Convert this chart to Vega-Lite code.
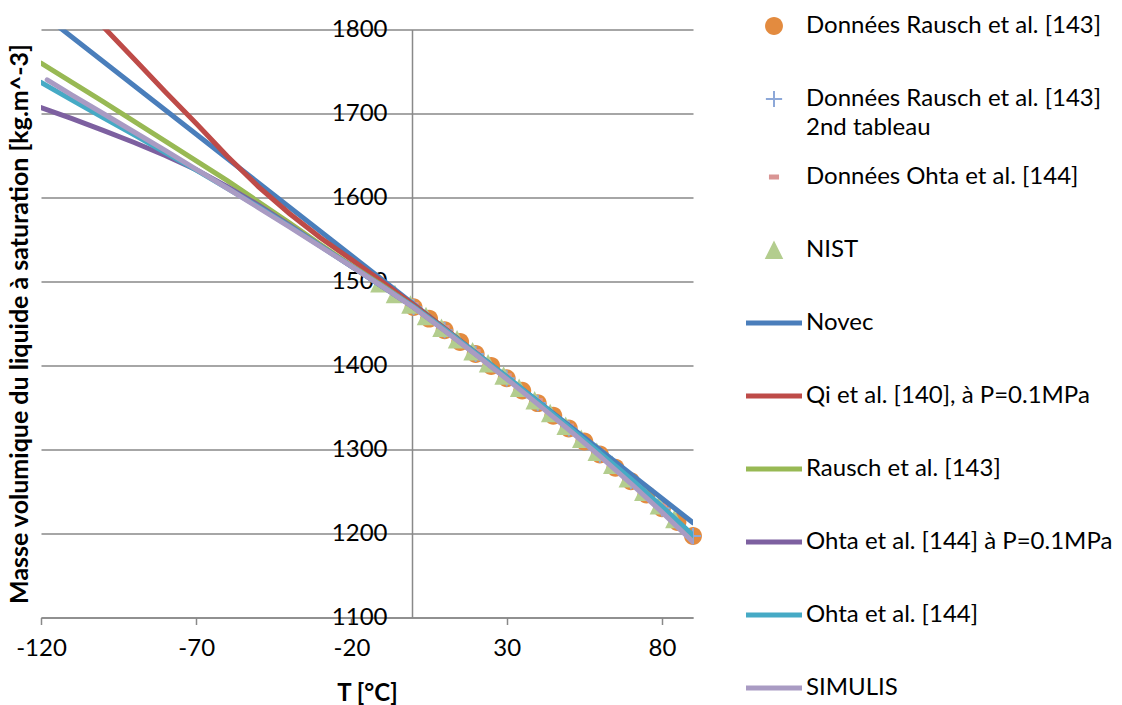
{
  "$schema": "https://vega.github.io/schema/vega-lite/v6.json",
  "autosize": "none",
  "width": 652,
  "height": 588,
  "padding": {"left": 41, "top": 29.5, "right": 429, "bottom": 87.5},
  "background": "white",
  "config": {"font": "Lato", "view": {"stroke": null}, "style": {"guide-label": {"lineHeight": 29}}},
  "data": {"values": [
    {"s": "Données Rausch et al. [143]", "T": 0, "rho": 1469.5},
    {"s": "Données Rausch et al. [143]", "T": 5, "rho": 1455.8},
    {"s": "Données Rausch et al. [143]", "T": 10, "rho": 1442.0},
    {"s": "Données Rausch et al. [143]", "T": 15, "rho": 1427.9},
    {"s": "Données Rausch et al. [143]", "T": 20, "rho": 1413.7},
    {"s": "Données Rausch et al. [143]", "T": 25, "rho": 1399.4},
    {"s": "Données Rausch et al. [143]", "T": 30, "rho": 1384.8},
    {"s": "Données Rausch et al. [143]", "T": 35, "rho": 1370.1},
    {"s": "Données Rausch et al. [143]", "T": 40, "rho": 1355.2},
    {"s": "Données Rausch et al. [143]", "T": 45, "rho": 1340.2},
    {"s": "Données Rausch et al. [143]", "T": 50, "rho": 1325.0},
    {"s": "Données Rausch et al. [143]", "T": 55, "rho": 1309.6},
    {"s": "Données Rausch et al. [143]", "T": 60, "rho": 1294.0},
    {"s": "Données Rausch et al. [143]", "T": 65, "rho": 1278.3},
    {"s": "Données Rausch et al. [143]", "T": 70, "rho": 1262.3},
    {"s": "Données Rausch et al. [143]", "T": 75, "rho": 1246.3},
    {"s": "Données Rausch et al. [143]", "T": 80, "rho": 1230.0},
    {"s": "Données Rausch et al. [143]", "T": 85, "rho": 1213.6},
    {"s": "Données Rausch et al. [143]", "T": 90, "rho": 1197.0},
    {"s": "Données Rausch et al. [143] 2nd tableau", "T": 0, "rho": 1469.5},
    {"s": "Données Rausch et al. [143] 2nd tableau", "T": 10, "rho": 1442.0},
    {"s": "Données Rausch et al. [143] 2nd tableau", "T": 20, "rho": 1413.7},
    {"s": "Données Rausch et al. [143] 2nd tableau", "T": 30, "rho": 1384.8},
    {"s": "Données Rausch et al. [143] 2nd tableau", "T": 40, "rho": 1355.2},
    {"s": "Données Rausch et al. [143] 2nd tableau", "T": 50, "rho": 1325.0},
    {"s": "Données Rausch et al. [143] 2nd tableau", "T": 60, "rho": 1294.0},
    {"s": "Données Rausch et al. [143] 2nd tableau", "T": 70, "rho": 1262.3},
    {"s": "Données Rausch et al. [143] 2nd tableau", "T": 80, "rho": 1230.0},
    {"s": "Données Rausch et al. [143] 2nd tableau", "T": 90, "rho": 1197.0},
    {"s": "Données Ohta et al. [144]", "T": 0, "rho": 1472.5},
    {"s": "Données Ohta et al. [144]", "T": 10, "rho": 1445.0},
    {"s": "Données Ohta et al. [144]", "T": 20, "rho": 1416.7},
    {"s": "Données Ohta et al. [144]", "T": 30, "rho": 1387.8},
    {"s": "Données Ohta et al. [144]", "T": 40, "rho": 1358.2},
    {"s": "Données Ohta et al. [144]", "T": 50, "rho": 1328.0},
    {"s": "Données Ohta et al. [144]", "T": 60, "rho": 1297.0},
    {"s": "Données Ohta et al. [144]", "T": 70, "rho": 1265.3},
    {"s": "Données Ohta et al. [144]", "T": 80, "rho": 1233.0},
    {"s": "NIST", "T": -11, "rho": 1497.5},
    {"s": "NIST", "T": -6, "rho": 1484.8},
    {"s": "NIST", "T": -1, "rho": 1472.2},
    {"s": "NIST", "T": 4, "rho": 1458.6},
    {"s": "NIST", "T": 9, "rho": 1444.7},
    {"s": "NIST", "T": 14, "rho": 1430.8},
    {"s": "NIST", "T": 19, "rho": 1416.6},
    {"s": "NIST", "T": 24, "rho": 1402.3},
    {"s": "NIST", "T": 29, "rho": 1387.7},
    {"s": "NIST", "T": 34, "rho": 1373.1},
    {"s": "NIST", "T": 39, "rho": 1358.2},
    {"s": "NIST", "T": 44, "rho": 1343.2},
    {"s": "NIST", "T": 49, "rho": 1328.0},
    {"s": "NIST", "T": 54, "rho": 1312.6},
    {"s": "NIST", "T": 59, "rho": 1297.1},
    {"s": "NIST", "T": 64, "rho": 1281.4},
    {"s": "NIST", "T": 69, "rho": 1265.5},
    {"s": "NIST", "T": 74, "rho": 1249.5},
    {"s": "NIST", "T": 79, "rho": 1233.3},
    {"s": "NIST", "T": 84, "rho": 1216.9},
    {"s": "Novec", "T": -120, "rho": 1819.8},
    {"s": "Novec", "T": -60, "rho": 1646.4},
    {"s": "Novec", "T": 0, "rho": 1473.0},
    {"s": "Novec", "T": 30, "rho": 1386.3},
    {"s": "Novec", "T": 60, "rho": 1299.6},
    {"s": "Novec", "T": 90, "rho": 1212.9},
    {"s": "Qi et al. [140], à P=0.1MPa", "T": -120, "rho": 1884},
    {"s": "Qi et al. [140], à P=0.1MPa", "T": -110, "rho": 1843},
    {"s": "Qi et al. [140], à P=0.1MPa", "T": -100, "rho": 1803.5},
    {"s": "Qi et al. [140], à P=0.1MPa", "T": -90, "rho": 1765},
    {"s": "Qi et al. [140], à P=0.1MPa", "T": -80, "rho": 1726},
    {"s": "Qi et al. [140], à P=0.1MPa", "T": -70, "rho": 1688},
    {"s": "Qi et al. [140], à P=0.1MPa", "T": -60, "rho": 1649},
    {"s": "Qi et al. [140], à P=0.1MPa", "T": -50, "rho": 1613},
    {"s": "Qi et al. [140], à P=0.1MPa", "T": -40, "rho": 1581},
    {"s": "Qi et al. [140], à P=0.1MPa", "T": -30, "rho": 1552},
    {"s": "Qi et al. [140], à P=0.1MPa", "T": -20, "rho": 1526},
    {"s": "Qi et al. [140], à P=0.1MPa", "T": -10, "rho": 1499.5},
    {"s": "Qi et al. [140], à P=0.1MPa", "T": 0, "rho": 1472},
    {"s": "Qi et al. [140], à P=0.1MPa", "T": 10, "rho": 1444},
    {"s": "Qi et al. [140], à P=0.1MPa", "T": 20, "rho": 1415},
    {"s": "Qi et al. [140], à P=0.1MPa", "T": 30, "rho": 1386},
    {"s": "Rausch et al. [143]", "T": -120, "rho": 1760},
    {"s": "Rausch et al. [143]", "T": -110, "rho": 1737},
    {"s": "Rausch et al. [143]", "T": -100, "rho": 1714},
    {"s": "Rausch et al. [143]", "T": -90, "rho": 1690.5},
    {"s": "Rausch et al. [143]", "T": -80, "rho": 1667},
    {"s": "Rausch et al. [143]", "T": -70, "rho": 1643.5},
    {"s": "Rausch et al. [143]", "T": -60, "rho": 1620},
    {"s": "Rausch et al. [143]", "T": -50, "rho": 1595},
    {"s": "Rausch et al. [143]", "T": -40, "rho": 1570},
    {"s": "Rausch et al. [143]", "T": -30, "rho": 1544},
    {"s": "Rausch et al. [143]", "T": -20, "rho": 1519},
    {"s": "Rausch et al. [143]", "T": -10, "rho": 1495},
    {"s": "Rausch et al. [143]", "T": 0, "rho": 1470},
    {"s": "Rausch et al. [143]", "T": 10, "rho": 1442},
    {"s": "Rausch et al. [143]", "T": 20, "rho": 1413.7},
    {"s": "Rausch et al. [143]", "T": 30, "rho": 1384.8},
    {"s": "Rausch et al. [143]", "T": 40, "rho": 1355.2},
    {"s": "Rausch et al. [143]", "T": 50, "rho": 1325},
    {"s": "Rausch et al. [143]", "T": 60, "rho": 1294},
    {"s": "Rausch et al. [143]", "T": 70, "rho": 1262.3},
    {"s": "Rausch et al. [143]", "T": 80, "rho": 1230},
    {"s": "Rausch et al. [143]", "T": 90, "rho": 1197},
    {"s": "Ohta et al. [144] à P=0.1MPa", "T": -120, "rho": 1707},
    {"s": "Ohta et al. [144] à P=0.1MPa", "T": -110, "rho": 1694},
    {"s": "Ohta et al. [144] à P=0.1MPa", "T": -100, "rho": 1680},
    {"s": "Ohta et al. [144] à P=0.1MPa", "T": -90, "rho": 1665.5},
    {"s": "Ohta et al. [144] à P=0.1MPa", "T": -80, "rho": 1650},
    {"s": "Ohta et al. [144] à P=0.1MPa", "T": -70, "rho": 1633},
    {"s": "Ohta et al. [144] à P=0.1MPa", "T": -60, "rho": 1613},
    {"s": "Ohta et al. [144] à P=0.1MPa", "T": -50, "rho": 1591},
    {"s": "Ohta et al. [144] à P=0.1MPa", "T": -40, "rho": 1567},
    {"s": "Ohta et al. [144] à P=0.1MPa", "T": -30, "rho": 1542.5},
    {"s": "Ohta et al. [144] à P=0.1MPa", "T": -20, "rho": 1518},
    {"s": "Ohta et al. [144] à P=0.1MPa", "T": -10, "rho": 1494},
    {"s": "Ohta et al. [144] à P=0.1MPa", "T": 0, "rho": 1469.5},
    {"s": "Ohta et al. [144] à P=0.1MPa", "T": 10, "rho": 1442},
    {"s": "Ohta et al. [144] à P=0.1MPa", "T": 20, "rho": 1413.7},
    {"s": "Ohta et al. [144] à P=0.1MPa", "T": 30, "rho": 1384.8},
    {"s": "Ohta et al. [144]", "T": -120, "rho": 1737},
    {"s": "Ohta et al. [144]", "T": -110, "rho": 1716},
    {"s": "Ohta et al. [144]", "T": -100, "rho": 1695},
    {"s": "Ohta et al. [144]", "T": -90, "rho": 1674.5},
    {"s": "Ohta et al. [144]", "T": -80, "rho": 1653.5},
    {"s": "Ohta et al. [144]", "T": -70, "rho": 1632.5},
    {"s": "Ohta et al. [144]", "T": -60, "rho": 1611},
    {"s": "Ohta et al. [144]", "T": -50, "rho": 1589},
    {"s": "Ohta et al. [144]", "T": -40, "rho": 1566},
    {"s": "Ohta et al. [144]", "T": -30, "rho": 1542},
    {"s": "Ohta et al. [144]", "T": -20, "rho": 1518},
    {"s": "Ohta et al. [144]", "T": -10, "rho": 1494},
    {"s": "Ohta et al. [144]", "T": 0, "rho": 1470},
    {"s": "Ohta et al. [144]", "T": 10, "rho": 1443},
    {"s": "Ohta et al. [144]", "T": 20, "rho": 1415},
    {"s": "Ohta et al. [144]", "T": 30, "rho": 1386.5},
    {"s": "Ohta et al. [144]", "T": 40, "rho": 1357},
    {"s": "Ohta et al. [144]", "T": 50, "rho": 1327},
    {"s": "Ohta et al. [144]", "T": 60, "rho": 1296},
    {"s": "Ohta et al. [144]", "T": 70, "rho": 1265},
    {"s": "Ohta et al. [144]", "T": 80, "rho": 1232},
    {"s": "Ohta et al. [144]", "T": 90, "rho": 1198},
    {"s": "SIMULIS", "T": -118, "rho": 1740},
    {"s": "SIMULIS", "T": -110, "rho": 1722},
    {"s": "SIMULIS", "T": -100, "rho": 1700},
    {"s": "SIMULIS", "T": -90, "rho": 1678},
    {"s": "SIMULIS", "T": -80, "rho": 1656},
    {"s": "SIMULIS", "T": -70, "rho": 1633.5},
    {"s": "SIMULIS", "T": -60, "rho": 1611},
    {"s": "SIMULIS", "T": -50, "rho": 1588},
    {"s": "SIMULIS", "T": -40, "rho": 1565},
    {"s": "SIMULIS", "T": -30, "rho": 1541.5},
    {"s": "SIMULIS", "T": -20, "rho": 1518},
    {"s": "SIMULIS", "T": -10, "rho": 1494},
    {"s": "SIMULIS", "T": 0, "rho": 1469},
    {"s": "SIMULIS", "T": 10, "rho": 1441.5},
    {"s": "SIMULIS", "T": 20, "rho": 1413},
    {"s": "SIMULIS", "T": 30, "rho": 1384},
    {"s": "SIMULIS", "T": 40, "rho": 1354},
    {"s": "SIMULIS", "T": 50, "rho": 1323.5},
    {"s": "SIMULIS", "T": 60, "rho": 1292},
    {"s": "SIMULIS", "T": 70, "rho": 1259.5},
    {"s": "SIMULIS", "T": 80, "rho": 1225.5},
    {"s": "SIMULIS", "T": 90, "rho": 1190}
  ]},
  "encoding": {
    "x": {
      "field": "T", "type": "quantitative",
      "scale": {"domain": [-120, 90], "nice": false, "zero": false},
      "axis": {
        "values": [-120, -70, -20, 30, 80],
        "labelExpr": "'' + datum.value",
        "grid": false,
        "domainColor": "#898989", "domainWidth": 1.5,
        "tickColor": "#898989", "tickWidth": 1.5, "tickSize": 7,
        "labelFontSize": 24, "labelColor": "black", "labelPadding": 12,
        "labelFlush": false, "labelOverlap": false,
        "title": "T [°C]", "titleFontSize": 24, "titleFontWeight": "bold",
        "titleColor": "black", "titlePadding": 21
      }
    },
    "y": {
      "field": "rho", "type": "quantitative",
      "scale": {"domain": [1100, 1800], "nice": false, "zero": false},
      "axis": {
        "values": [1100, 1200, 1300, 1400, 1500, 1600, 1700, 1800],
        "labelExpr": "'' + datum.value",
        "offset": -371,
        "grid": true, "gridColor": "#898989", "gridWidth": 1.5,
        "domainColor": "#898989", "domainWidth": 1.5,
        "ticks": false,
        "labelFontSize": 24, "labelColor": "black", "labelPadding": 25,
        "labelFlush": false, "labelOverlap": false,
        "title": "Masse volumique du liquide à saturation [kg.m^-3]",
        "titleFontSize": 25, "titleFontWeight": "bold", "titleColor": "black",
        "titleAngle": -90, "titleX": -393, "titleY": 294,
        "titleAlign": "center", "titleBaseline": "middle"
      }
    }
  },
  "layer": [
    {
      "transform": [{"filter": {"field": "s", "oneOf": ["Données Rausch et al. [143]", "Données Rausch et al. [143] 2nd tableau", "Données Ohta et al. [144]", "NIST"]}}],
      "mark": {"type": "point", "filled": true, "opacity": 1, "size": 3136, "strokeWidth": 0},
      "encoding": {
        "color": {
          "field": "s", "type": "nominal",
          "scale": {
            "domain": ["Données Rausch et al. [143]", "Données Rausch et al. [143] 2nd tableau", "Données Ohta et al. [144]", "NIST", "Novec", "Qi et al. [140], à P=0.1MPa", "Rausch et al. [143]", "Ohta et al. [144] à P=0.1MPa", "Ohta et al. [144]", "SIMULIS"],
            "range": ["#E38B3F", "#8DA8D8", "#D99594", "#B3CD8E", "#4A7EBB", "#BE4B48", "#98B954", "#7D60A0", "#46AAC5", "#A99BC3"]
          },
          "legend": {
            "title": null,
            "orient": "none", "legendX": 705, "legendY": -40,
            "padding": 0,
            "symbolSize": 3136, "symbolStrokeWidth": 0,
            "rowPadding": 0,
            "clipHeight": 73,
            "labelFontSize": 24, "labelColor": "black", "labelLimit": 500, "labelOffset": 4,
            "labelExpr": "datum.label == 'Données Rausch et al. [143] 2nd tableau' ? ['Données Rausch et al. [143]', '2nd tableau'] : datum.label"
          }
        },
        "shape": {
          "field": "s", "type": "nominal",
          "scale": {
            "domain": ["Données Rausch et al. [143]", "Données Rausch et al. [143] 2nd tableau", "Données Ohta et al. [144]", "NIST", "Novec", "Qi et al. [140], à P=0.1MPa", "Rausch et al. [143]", "Ohta et al. [144] à P=0.1MPa", "Ohta et al. [144]", "SIMULIS"],
            "range": [
              "M0.32,0A0.32,0.32,0,1,1,-0.32,0A0.32,0.32,0,1,1,0.32,0Z",
              "M-0.29,-0.036H-0.036V-0.29H0.036V-0.036H0.29V0.036H0.036V0.29H-0.036V0.036H-0.29Z",
              "M-0.18,-0.09H0.18V0.09H-0.18Z",
              "M0,-0.34L0.33,0.32L-0.33,0.32Z",
              "M-1,-0.09H1V0.09H-1Z",
              "M-1,-0.09H1V0.09H-1Z",
              "M-1,-0.09H1V0.09H-1Z",
              "M-1,-0.09H1V0.09H-1Z",
              "M-1,-0.09H1V0.09H-1Z",
              "M-1,-0.09H1V0.09H-1Z"
            ]
          },
          "legend": {
            "title": null,
            "orient": "none", "legendX": 705, "legendY": -40,
            "padding": 0,
            "symbolSize": 3136, "symbolStrokeWidth": 0,
            "rowPadding": 0,
            "clipHeight": 73,
            "labelFontSize": 24, "labelColor": "black", "labelLimit": 500, "labelOffset": 4,
            "labelExpr": "datum.label == 'Données Rausch et al. [143] 2nd tableau' ? ['Données Rausch et al. [143]', '2nd tableau'] : datum.label"
          }
        }
      }
    },
    {
      "transform": [{"filter": {"field": "s", "oneOf": ["Novec", "Qi et al. [140], à P=0.1MPa", "Rausch et al. [143]", "Ohta et al. [144] à P=0.1MPa", "Ohta et al. [144]", "SIMULIS"]}}],
      "mark": {"type": "line", "strokeWidth": 5, "clip": true, "strokeCap": "round"},
      "encoding": {
        "color": {"field": "s", "type": "nominal", "legend": null}
      }
    }
  ]
}
